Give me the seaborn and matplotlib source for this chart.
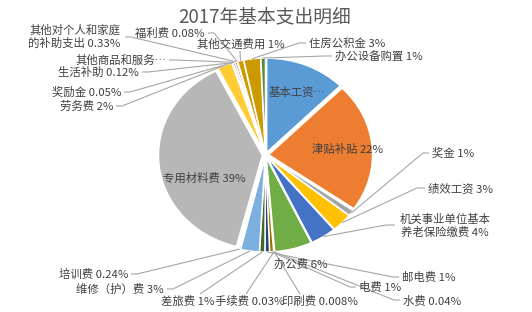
import numpy as np
import matplotlib
matplotlib.use("Agg")
import matplotlib.pyplot as plt
import seaborn as sns

# ---------------- data ----------------
categories = ["基本工资", "津贴补贴", "奖金", "绩效工资", "机关事业单位基本养老保险缴费",
              "办公费", "印刷费", "手续费", "水费", "电费", "邮电费", "差旅费",
              "维修（护）费", "培训费", "专用材料费", "劳务费", "奖励金", "生活补助",
              "其他商品和服务支出", "其他对个人和家庭的补助支出", "福利费", "其他交通费用",
              "住房公积金", "办公设备购置"]
values = [12.5, 22.2, 1.0, 3.2, 4.0,
          5.8, 0.008, 0.03, 0.04, 0.6, 0.7, 0.8,
          2.9, 0.24, 38.6, 2.3, 0.05, 0.12,
          0.3, 0.33, 0.08, 0.9,
          2.6, 0.7]
pct_labels = ["", "22%", "1%", "3%", "4%",
              "6%", "0.008%", "0.03%", "0.04%", "1%", "1%", "1%",
              "3%", "0.24%", "39%", "2%", "0.05%", "0.12%",
              "", "0.33%", "0.08%", "1%",
              "3%", "1%"]
colors = ["#5B9BD5", "#ED7D31", "#A5A5A5", "#FFC000", "#4472C4",
          "#70AD47", "#255E91", "#9E480E", "#636363", "#997300", "#264478", "#43682B",
          "#7CAFDD", "#F1975A", "#B7B7B7", "#FFCD33", "#698ED0", "#8CC168",
          "#327DC2", "#D26012", "#848484", "#CC9A00",
          "#CC9A00", "#5A8A39"]

title = "2017年基本支出明细"

# ---------------- style ----------------
sns.set_theme(style="white")
plt.rcParams['font.family'] = ['Noto Sans CJK SC', 'DejaVu Sans']

W, H = 532, 312
fig = plt.figure(figsize=(W / 100, H / 100), dpi=100)
ax = fig.add_axes([0, 0, 1, 1])

CX, CY, RX, RY = 265.5, 155.0, 107.0, 97.0


def P(px, py):
    return ((px - CX) / RX, (CY - py) / RY)


R = 0.97
wedges, _ = ax.pie(values, colors=colors, startangle=90, counterclock=False,
                   radius=R, explode=[0.03] * len(values),
                   wedgeprops=dict(edgecolor="white", linewidth=1.0))
ax.set_aspect("auto")
ax.set_xlim(-CX / RX, (W - CX) / RX)
ax.set_ylim((CY - H) / RY, CY / RY)
ax.axis("off")

TXT = "#404040"
LINE = "#A6A6A6"
FS = 8.2

# layout: index -> (text, x, y, ha, leader points [anchor, elbow] or None)
layout = {
    0: ("基本工资…", 269, 92, "left", None),
    1: (None, 348, 149, "center", None),
    2: (None, 432, 153, "left", [(429, 153), (423, 153)]),
    3: (None, 428, 189, "left", [(425, 188), (417, 188)]),
    4: ("机关事业单位基本\n养老保险缴费 4%", 445, 225.5, "center", [(395, 225), (386, 225)]),
    5: (None, 301, 264, "center", None),
    6: (None, 282, 301, "left", [(300, 294)]),
    7: (None, 215, 301, "left", [(246, 294)]),
    8: (None, 403, 301, "left", [(400, 300), (394, 300)]),
    9: (None, 359, 287, "left", [(356, 287), (350, 287)]),
    10: (None, 402, 277, "left", [(399, 277), (393, 277)]),
    11: (None, 161, 301, "left", [(200, 294)]),
    12: (None, 164, 289, "right", [(167, 289), (173, 289)]),
    13: (None, 128, 274, "right", [(131, 274), (137, 274)]),
    14: (None, 204, 178, "center", None),
    15: (None, 113, 106, "right", [(116, 106), (122, 106)]),
    16: (None, 121, 92, "right", [(124, 92), (130, 92)]),
    17: (None, 139, 72, "right", [(142, 72), (148, 72)]),
    18: ("其他商品和服务…", 166, 60, "right", [(169, 60), (175, 60)]),
    19: ("其他对个人和家庭\n的补助支出 0.33%", 74.5, 37, "center", [(125, 37), (131, 37)]),
    20: (None, 205, 33, "right", [(208, 33), (214, 33)]),
    21: (None, 197, 44, "left", [(240, 51)]),
    22: (None, 309, 43, "left", [(306, 43), (299, 43)]),
    23: (None, 335, 56, "left", [(332, 56), (325, 56)]),
}

for i, w in enumerate(wedges):
    txt, x, y, ha, lead = layout[i]
    if txt is None:
        txt = f"{categories[i]} {pct_labels[i]}"
    tx, ty = P(x, y)
    ax.text(tx, ty, txt, ha=ha, va="center", fontsize=FS, color=TXT,
            linespacing=1.25, zorder=5)
    if lead is not None:
        mid = np.deg2rad((w.theta1 + w.theta2) / 2)
        target = (w.center[0] + w.r * np.cos(mid), w.center[1] + w.r * np.sin(mid))
        pts = [P(*p) for p in lead] + [target]
        xs, ys = zip(*pts)
        ax.plot(xs, ys, color=LINE, lw=0.8, zorder=4, solid_capstyle="butt")

ttx, tty = P(265, 17)
ax.text(ttx, tty, title, ha="center", va="center", fontsize=13.5, color="#595959")

fig.savefig("out.png", dpi=100, facecolor="white")
